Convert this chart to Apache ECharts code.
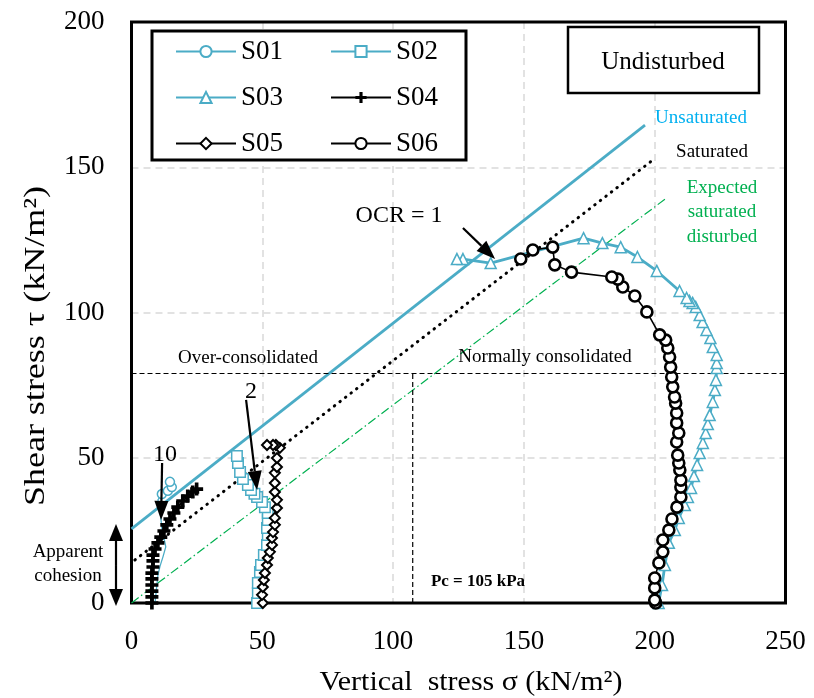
<!DOCTYPE html>
<html><head><meta charset="utf-8">
<script src="https://cdn.jsdelivr.net/npm/echarts/dist/echarts.min.js"></script>
<style>html,body{margin:0;padding:0;background:#fff}#c{width:814px;height:698px}</style>
</head><body><div id="c"></div>
<script>
// ---- data (vertical stress σ, shear stress τ) ----
const xTicks = [0, 50, 100, 150, 200, 250];
const yTicks = [0, 50, 100, 150, 200];
const seriesNames = ['S01', 'S02', 'S03', 'S04', 'S05', 'S06'];

const S01 = [[9.0,0],[9.3,2.8],[9.7,6.2],[10.1,9.6],[10.9,12.7],[12.0,15.8],[13.1,19.3],[12.4,22.4],[11.6,25.8],[11.2,29.3],[10.9,32.7],[10.1,35.5],[11.6,37.5],[13.9,38.6],[15.4,39.9],[14.7,41.7]];
const S02 = [[48.0,0],[48.3,3.4],[48.3,6.9],[49.1,10.7],[49.5,13.1],[50.6,16.5],[51.8,20.0],[52.1,23.4],[51.8,25.8],[52.1,28.6],[52.1,31.0],[51.0,33.0],[49.9,34.8],[48.0,36.5],[47.0,37.6],[45.7,38.9],[44.5,40.6],[42.6,42.7],[41.5,45.1],[40.7,48.2],[40.3,50.6]];
const S03 = [[201.5,0],[202.8,6.2],[203.9,13.1],[205.4,20.7],[207.7,25.1],[209.2,29.3],[211.5,33.7],[212.7,36.5],[213.9,39.6],[215.0,43.7],[216.2,47.5],[217.2,51.6],[218.4,55.1],[219.5,58.5],[220.3,61.6],[221.0,64.7],[222.2,69.2],[223.0,73.3],[223.4,76.8],[223.7,80.9],[223.7,82.6],[223.7,85.4],[222.2,88.1],[221.3,91.2],[219.8,94.0],[218.3,96.7],[217.2,99.1],[215.7,101.9],[214.5,103.3],[213.3,104.0],[212.2,105.0],[209.5,107.4],[200.8,114.3],[193.4,119.1],[187.0,122.5],[180.0,123.9],[172.8,125.6],[137.3,117.0],[126.7,118.4],[124.4,118.4]];
const S04 = [[7.8,0],[7.8,2.1],[7.8,4.1],[7.8,6.2],[7.8,8.3],[7.8,10.3],[8.2,12.4],[8.2,14.5],[8.2,16.5],[9.0,18.6],[10.1,20.7],[11.2,22.7],[12.4,24.8],[13.5,26.9],[14.7,28.9],[16.2,31.0],[17.7,33.0],[19.6,35.1],[21.5,36.8],[23.4,38.2],[24.9,39.2]];
const S05 = [[50.2,0],[49.9,2.8],[50.2,5.5],[50.6,7.9],[51.0,10.3],[51.8,13.1],[52.1,15.5],[52.9,17.6],[53.7,20.0],[53.7,22.4],[54.1,24.4],[54.8,26.9],[54.8,29.3],[55.6,32.7],[55.6,35.5],[54.8,38.2],[54.8,41.3],[54.8,44.8],[55.6,46.8],[55.6,49.9],[56.7,53.4],[55.2,54.4],[54.1,54.4],[51.8,54.4]];
const S06 = [[200.4,0],[200.0,1.0],[200.0,5.2],[200.0,8.6],[201.6,13.8],[203.1,17.6],[203.1,21.7],[205.4,25.1],[206.6,28.9],[208.5,33.0],[210.0,36.5],[210.0,39.9],[210.0,42.3],[209.6,45.8],[209.2,48.2],[208.8,50.9],[208.4,55.4],[209.2,58.5],[208.4,62.0],[208.4,65.4],[208.0,68.8],[207.6,70.9],[206.9,74.4],[206.5,77.8],[206.1,81.2],[205.7,84.7],[205.0,87.8],[204.2,90.5],[201.9,92.3],[197.0,100.2],[192.4,105.7],[187.8,108.8],[185.9,111.5],[183.6,112.2],[168.2,113.9],[161.8,116.4],[161.0,122.5],[153.4,121.5],[148.8,118.4]];

// envelope / reference lines
const unsaturatedLine = [[0,25.5],[196.3,164.5]];
const saturatedLine = [[1.3,14.8],[199.3,152.5]];
const expectedLine = [[0,0],[203.9,139]];
const consolidationLevel = [[0,79],[250,79]];
const pcLine = [[107.5,0],[107.5,79]];
// annotation arrows [from, to] in data units
const arrowOCR = [[126.7,129.1],[139.0,118.4]];
const arrow2 = [[43.8,69.9],[48.0,38.9]];
const arrow10 = [[11.7,48.2],[11.3,28.6]];

// ---- styling ----
const FONT = "'Liberation Serif','Times New Roman',serif";
const TEAL = '#4BACC6';
const PLUS = 'path://M0,3.6 L10,3.6 L10,6.4 L0,6.4 Z M3.6,0 L6.4,0 L6.4,10 L3.6,10 Z';

const chart = echarts.init(document.getElementById('c'), null, {renderer: 'canvas'});

function dataSeries(name, data, color, symbol, size, lw, bw, fill) {
  return {
    name, type: 'line', data, symbol, symbolSize: size, showSymbol: true, showAllSymbol: true,
    lineStyle: {color, width: lw}, itemStyle: {color: fill, borderColor: color, borderWidth: bw},
    z: 3, animation: false
  };
}
function refSeries(data, lineStyle) {
  return {type: 'line', data, symbol: 'none', silent: true, lineStyle, z: 2, animation: false};
}

const s01 = dataSeries('S01', S01.map((p, i) => i < 12 ? {value: p, symbol: 'none'} : p), TEAL, 'circle', 9, 1.3, 1.5, '#fff');
const s02 = dataSeries('S02', S02, TEAL, 'rect', 10.5, 1, 1.5, '#fff');
const s03 = dataSeries('S03', S03, TEAL, 'triangle', 11, 2.8, 1.5, '#fff');
const s04 = dataSeries('S04', S04, '#000', PLUS, 13, 2, 0, '#000');
s04.itemStyle = {color: '#000'};
const s05 = dataSeries('S05', S05, '#000', 'diamond', 10, 1, 2, '#fff');
const s06 = dataSeries('S06', S06, '#000', 'circle', 11, 1.6, 2.6, '#fff');

const splitStyle = {show: true, showMinLine: false, showMaxLine: false, lineStyle: {color: '#d9d9d9', width: 1.5, type: [7, 5]}};
const option = {
  animation: false,
  backgroundColor: '#fff',
  grid: {left: 131.5, top: 22, right: 28.5, bottom: 95, show: false,
         containLabel: false, outerBoundsMode: 'none'},
  xAxis: {type: 'value', min: xTicks[0], max: xTicks[xTicks.length - 1], interval: 50,
    axisLine: {show: false}, axisTick: {show: false},
    axisLabel: {fontFamily: FONT, fontSize: 27, color: '#000', margin: 25, showMinLabel: true, showMaxLabel: true},
    splitLine: splitStyle},
  yAxis: {type: 'value', min: yTicks[0], max: yTicks[yTicks.length - 1], interval: 50,
    axisLine: {show: false}, axisTick: {show: false},
    axisLabel: {fontFamily: FONT, fontSize: 27, color: '#000', margin: 27, showMinLabel: true, showMaxLabel: true},
    splitLine: splitStyle},
  legend: [
    {data: ['S01', 'S03', 'S05'], orient: 'vertical', left: 175, top: 36, itemWidth: 60, itemHeight: 14,
     itemGap: 15, itemTextGap: 7, padding: 0, z: 10, textStyle: {fontFamily: FONT, fontSize: 27, color: '#000', lineHeight: 31}},
    {data: ['S02', 'S04', 'S06'], orient: 'vertical', left: 330, top: 36, itemWidth: 60, itemHeight: 14,
     itemGap: 15, itemTextGap: 7, padding: 0, z: 10, textStyle: {fontFamily: FONT, fontSize: 27, color: '#000', lineHeight: 31}}
  ],
  series: [
    refSeries(unsaturatedLine, {color: TEAL, width: 2.8}),
    refSeries(saturatedLine, {color: '#000', width: 3, type: [0.5, 6.5], cap: 'round'}),
    refSeries(expectedLine, {color: '#00B050', width: 1.2, type: [9, 3, 1.5, 3]}),
    refSeries(consolidationLevel, {color: '#000', width: 1.2, type: [5, 3]}),
    refSeries(pcLine, {color: '#000', width: 1.2, type: [5, 3]}),
    s01, s02, s03, s04, s05, s06
  ]
};
chart.setOption(option);

function txt(text, x, y, size, color, extra) {
  return Object.assign({type: 'text', x, y, z: 20,
    style: {text, font: (extra && extra.bold ? 'bold ' : '') + size + 'px ' + FONT, fill: color || '#000',
      textAlign: 'center', textVerticalAlign: 'middle', align: 'center', verticalAlign: 'middle'}}, extra && extra.el || {});
}
function arrow(pair) {
  const a = chart.convertToPixel({gridIndex: 0}, pair[0]);
  const b = chart.convertToPixel({gridIndex: 0}, pair[1]);
  return arrowPx(a, b);
}
function arrowPx(a, b, head, w) {
  head = head || 19; w = w || 14;
  const dx = b[0] - a[0], dy = b[1] - a[1], L = Math.hypot(dx, dy);
  const ux = dx / L, uy = dy / L, px = -uy, py = ux;
  const base = [b[0] - ux * head, b[1] - uy * head];
  return [
    {type: 'line', z: 20, shape: {x1: a[0], y1: a[1], x2: base[0], y2: base[1]}, style: {stroke: '#000', lineWidth: 2.2}},
    {type: 'polygon', z: 20, shape: {points: [b, [base[0] + px * w / 2, base[1] + py * w / 2], [base[0] - px * w / 2, base[1] - py * w / 2]]}, style: {fill: '#000'}}
  ];
}

const g = [];
// plot frame drawn from the axis extents
const p00 = chart.convertToPixel({gridIndex: 0}, [xTicks[0], yTicks[0]]);
const p11 = chart.convertToPixel({gridIndex: 0}, [xTicks[xTicks.length - 1], yTicks[yTicks.length - 1]]);
g.push({type: 'rect', z: 1, silent: true, shape: {x: p00[0], y: p11[1], width: p11[0] - p00[0], height: p00[1] - p11[1]},
        style: {fill: 'none', stroke: '#000', lineWidth: 3}});
g.push({type: 'rect', z: 3, shape: {x: 152, y: 31, width: 314, height: 129}, style: {fill: '#fff', stroke: '#000', lineWidth: 3}});
g.push({type: 'rect', z: 3, shape: {x: 568, y: 27, width: 191, height: 66}, style: {fill: '#fff', stroke: '#000', lineWidth: 2.5}});
g.push(txt('Undisturbed', 663, 62, 25));
g.push(txt('Unsaturated', 701, 118, 19, '#00B0F0'));
g.push(txt('Saturated', 712, 152, 19));
g.push(txt('Expected', 722, 188, 19, '#00B050'));
g.push(txt('saturated', 722, 212, 19, '#00B050'));
g.push(txt('disturbed', 722, 237, 19, '#00B050'));
g.push(txt('OCR = 1', 399, 216, 24));
g.push(txt('Over-consolidated', 248, 358, 19));
g.push(txt('Normally consolidated', 545, 357, 19));
g.push(txt('2', 251, 392, 24));
g.push(txt('10', 165, 455, 24));
g.push(txt('Apparent', 68, 552, 19));
g.push(txt('cohesion', 68, 576, 19));
g.push(txt('Pc = 105 kPa', 478, 582, 17, '#000', {bold: true}));
g.push(txt('Vertical  stress σ (kN/m²)', 471, 683, 28, '#000', {el: {scaleX: 1.07}}));
g.push(txt('Shear stress τ (kN/m²)', 36, 346, 30, '#000', {el: {rotation: Math.PI / 2, scaleX: 1.2}}));
arrow(arrowOCR).forEach(e => g.push(e));
arrow(arrow2).forEach(e => g.push(e));
arrow(arrow10).forEach(e => g.push(e));
// apparent cohesion double arrow (outside the plot, left of the y-axis)
const cTop = chart.convertToPixel({gridIndex: 0}, [0, unsaturatedLine[0][1]]);
const cBot = chart.convertToPixel({gridIndex: 0}, [0, 0]);
const ax = 116;
const mid = [ax, (cTop[1] + cBot[1]) / 2];
arrowPx(mid, [ax, cTop[1] - 5], 17, 14).forEach(e => g.push(e));
arrowPx(mid, [ax, cBot[1] + 3], 17, 14).forEach(e => g.push(e));
chart.setOption({graphic: {elements: g}});
</script></body></html>
